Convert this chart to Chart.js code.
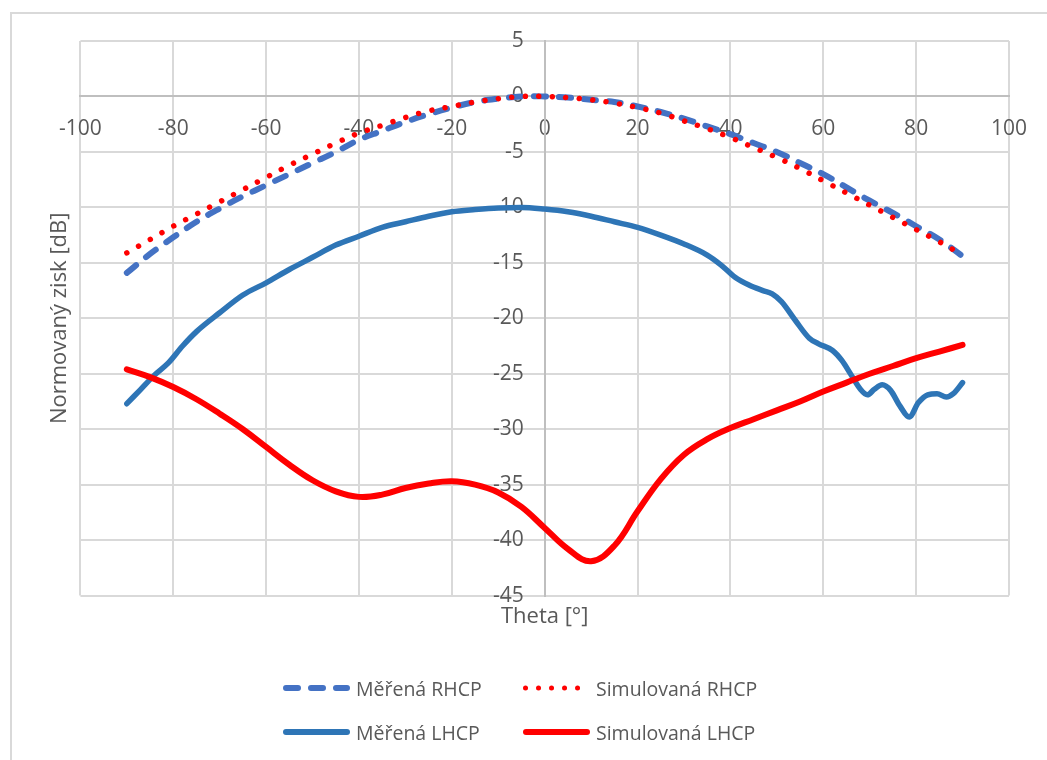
<!DOCTYPE html>
<html>
<head>
<meta charset="utf-8">
<script src="https://cdn.jsdelivr.net/npm/chart.js@4/dist/chart.umd.min.js"></script>
<style>
body { margin: 0; background: #fff; overflow: hidden; font-family: "Open Sans", sans-serif; }
#frame { position: absolute; left: 10px; top: 12px; width: 1100px; height: 800px; border: 2px solid #d9d9d9; }
#graf { position: absolute; left: 0; top: 0; }
.leg { position: absolute; height: 30px; display: flex; align-items: center; font-size: 19.5px; color: #595959; white-space: nowrap; }
.leg svg { margin-right: 6px; }
</style>
</head>
<body>
<div id="frame"></div>
<canvas id="graf" width="1047" height="760"></canvas>

<div class="leg" style="left:283px; top:673px">
  <svg width="67" height="12"><line x1="3" y1="6" x2="64" y2="6" stroke="#4472C4" stroke-width="6" stroke-linecap="round" stroke-dasharray="12 13"/></svg>Měřená RHCP
</div>
<div class="leg" style="left:523px; top:673px">
  <svg width="67" height="12"><line x1="2.5" y1="6" x2="56" y2="6" stroke="#FF0000" stroke-width="5" stroke-linecap="round" stroke-dasharray="0.01 13"/></svg>Simulovaná RHCP
</div>
<div class="leg" style="left:283px; top:717px">
  <svg width="67" height="12"><line x1="3" y1="6" x2="64" y2="6" stroke="#2E75B6" stroke-width="6" stroke-linecap="round"/></svg>Měřená LHCP
</div>
<div class="leg" style="left:523px; top:717px">
  <svg width="67" height="12"><line x1="3" y1="6" x2="64" y2="6" stroke="#FF0000" stroke-width="6" stroke-linecap="round"/></svg>Simulovaná LHCP
</div>

<script>
// uhel theta [deg], krok 5
const theta = [-90,-85,-80,-75,-70,-65,-60,-55,-50,-45,-40,-35,-30,-25,-20,-15,-10,-5,0,
  5,10,15,20,25,30,35,40,45,50,55,60,65,70,75,80,85,90]

const merenaRhcp = [-15.9,-14.2,-12.7,-11.3,-10.1,-9.0,-8.0,-7.0,-6.0,-5.0,-3.9,-3.1,-2.3,-1.6,-1.0,-0.5,-0.2,0,0,
  -0.1,-0.3,-0.5,-0.9,-1.4,-2.0,-2.7,-3.4,-4.2,-5.0,-6.0,-7.0,-8.2,-9.4,-10.5,-11.7,-12.9,-14.4]

const simRhcp = [-14.1,-12.9,-11.7,-10.6,-9.5,-8.4,-7.3,-6.2,-5.2,-4.2,-3.3,-2.6,-1.9,-1.3,-0.9,-0.5,-0.2,0,0,
  -0.1,-0.3,-0.6,-1.0,-1.5,-2.2,-2.9,-3.7,-4.6,-5.5,-6.5,-7.6,-8.7,-9.8,-10.9,-12.0,-13.1,-14.3]

const simLhcp = [-24.6,-25.3,-26.2,-27.3,-28.6,-30.0,-31.6,-33.2,-34.6,-35.6,-36.1,-35.9,-35.3,-34.9,-34.7,-35.0,-35.7,-37.0,-38.9,
  -40.8,-41.9,-40.5,-37.4,-34.5,-32.3,-30.9,-29.9,-29.1,-28.3,-27.5,-26.6,-25.8,-25.0,-24.3,-23.6,-23.0,-22.4]

// merena LHCP ma vic bodu (zvlneni na kraji)
const thetaMerLhcp = [-90,-87,-84,-81,-78,-75,-70,-65,-60,-55,-50,-45,-40,-35,-30,-25,-20,-15,-10,-5,0,
  5,10,15,20,25,30,35,38,41,44,47,49,51,54,57,59,62,64,66,68,69.5,71,72.7,74.5,76.5,78.5,
  80.5,82.5,84.5,86.5,88,90]
const merenaLhcp = [-27.7,-26.4,-25.1,-24.0,-22.5,-21.2,-19.5,-17.9,-16.8,-15.6,-14.5,-13.4,-12.6,-11.8,-11.3,-10.8,-10.4,-10.2,-10.05,-10.0,-10.15,
  -10.4,-10.8,-11.3,-11.8,-12.5,-13.3,-14.3,-15.2,-16.3,-17.0,-17.5,-17.8,-18.5,-20.2,-21.8,-22.3,-22.9,-23.8,-25.1,-26.4,-26.9,-26.4,-26.0,-26.5,-27.9,-28.9,
  -27.6,-26.9,-26.8,-27.1,-26.8,-25.8]

const xTicks = {min: -100, max: 100, step: 20}
const yTicks = {min: -45, max: 5, step: 5}

function pts(xs, ys) {
  return xs.map((x, i) => ({x: x, y: ys[i]}))
}

Chart.defaults.font.family = '"Open Sans", sans-serif'
const textColor = '#595959'

const ctx = document.getElementById('graf')
new Chart(ctx, {
  type: 'line',
  data: {
    datasets: [
      {label: 'Měřená RHCP', data: pts(theta, merenaRhcp), borderColor: '#4472C4', borderWidth: 6,
        borderDash: [12, 13], borderCapStyle: 'round', tension: 0.4, order: 4, xAxisID: 'x', yAxisID: 'y'},
      {label: 'Simulovaná RHCP', data: pts(theta, simRhcp), borderColor: '#FF0000', borderWidth: 5.5,
        borderDash: [0.01, 13.5], borderCapStyle: 'round', tension: 0.4, order: 3, xAxisID: 'x', yAxisID: 'y'},
      {label: 'Měřená LHCP', data: pts(thetaMerLhcp, merenaLhcp), borderColor: '#2E75B6', borderWidth: 5.5,
        borderCapStyle: 'round', cubicInterpolationMode: 'monotone', order: 2, xAxisID: 'x', yAxisID: 'y'},
      {label: 'Simulovaná LHCP', data: pts(theta, simLhcp), borderColor: '#FF0000', borderWidth: 6,
        borderCapStyle: 'round', tension: 0.4, order: 1, xAxisID: 'x', yAxisID: 'y'}
    ]
  },
  options: {
    responsive: false,
    animation: false,
    layout: {padding: {left: 10, top: 41, right: 37, bottom: 130}},
    plugins: {legend: {display: false}, tooltip: {enabled: false}},
    elements: {point: {radius: 0}, line: {borderJoinStyle: 'round'}},
    scales: {
      x: {
        type: 'linear', position: {y: 0}, min: xTicks.min, max: xTicks.max,
        ticks: {stepSize: xTicks.step, padding: 20, color: textColor, font: {size: 21}},
        grid: {color: '#d9d9d9', lineWidth: 2, drawTicks: false},
        border: {color: '#bfbfbf', width: 2}
      },
      // x je symetricka (-100..100), takze stred plochy = 0
      y: {
        type: 'linear', position: 'center', min: yTicks.min, max: yTicks.max,
        ticks: {stepSize: yTicks.step, padding: 21, color: textColor, font: {size: 21}},
        grid: {color: '#d9d9d9', lineWidth: 2, drawTicks: false},
        border: {color: '#bfbfbf', width: 2}
      },
      xTitle: {
        type: 'linear', axis: 'x', position: 'bottom',
        ticks: {display: false}, grid: {display: false, drawTicks: false}, border: {display: false},
        title: {display: true, text: 'Theta [°]', color: textColor, font: {size: 22}, padding: {top: 8, bottom: 0}}
      },
      yTitle: {
        type: 'linear', axis: 'y', position: 'left',
        ticks: {display: false}, grid: {display: false, drawTicks: false}, border: {display: false},
        title: {display: true, text: 'Normovaný zisk [dB]', color: textColor, font: {size: 22}, padding: {top: 37, bottom: 7}}
      }
    }
  }
})
</script>
</body>
</html>
